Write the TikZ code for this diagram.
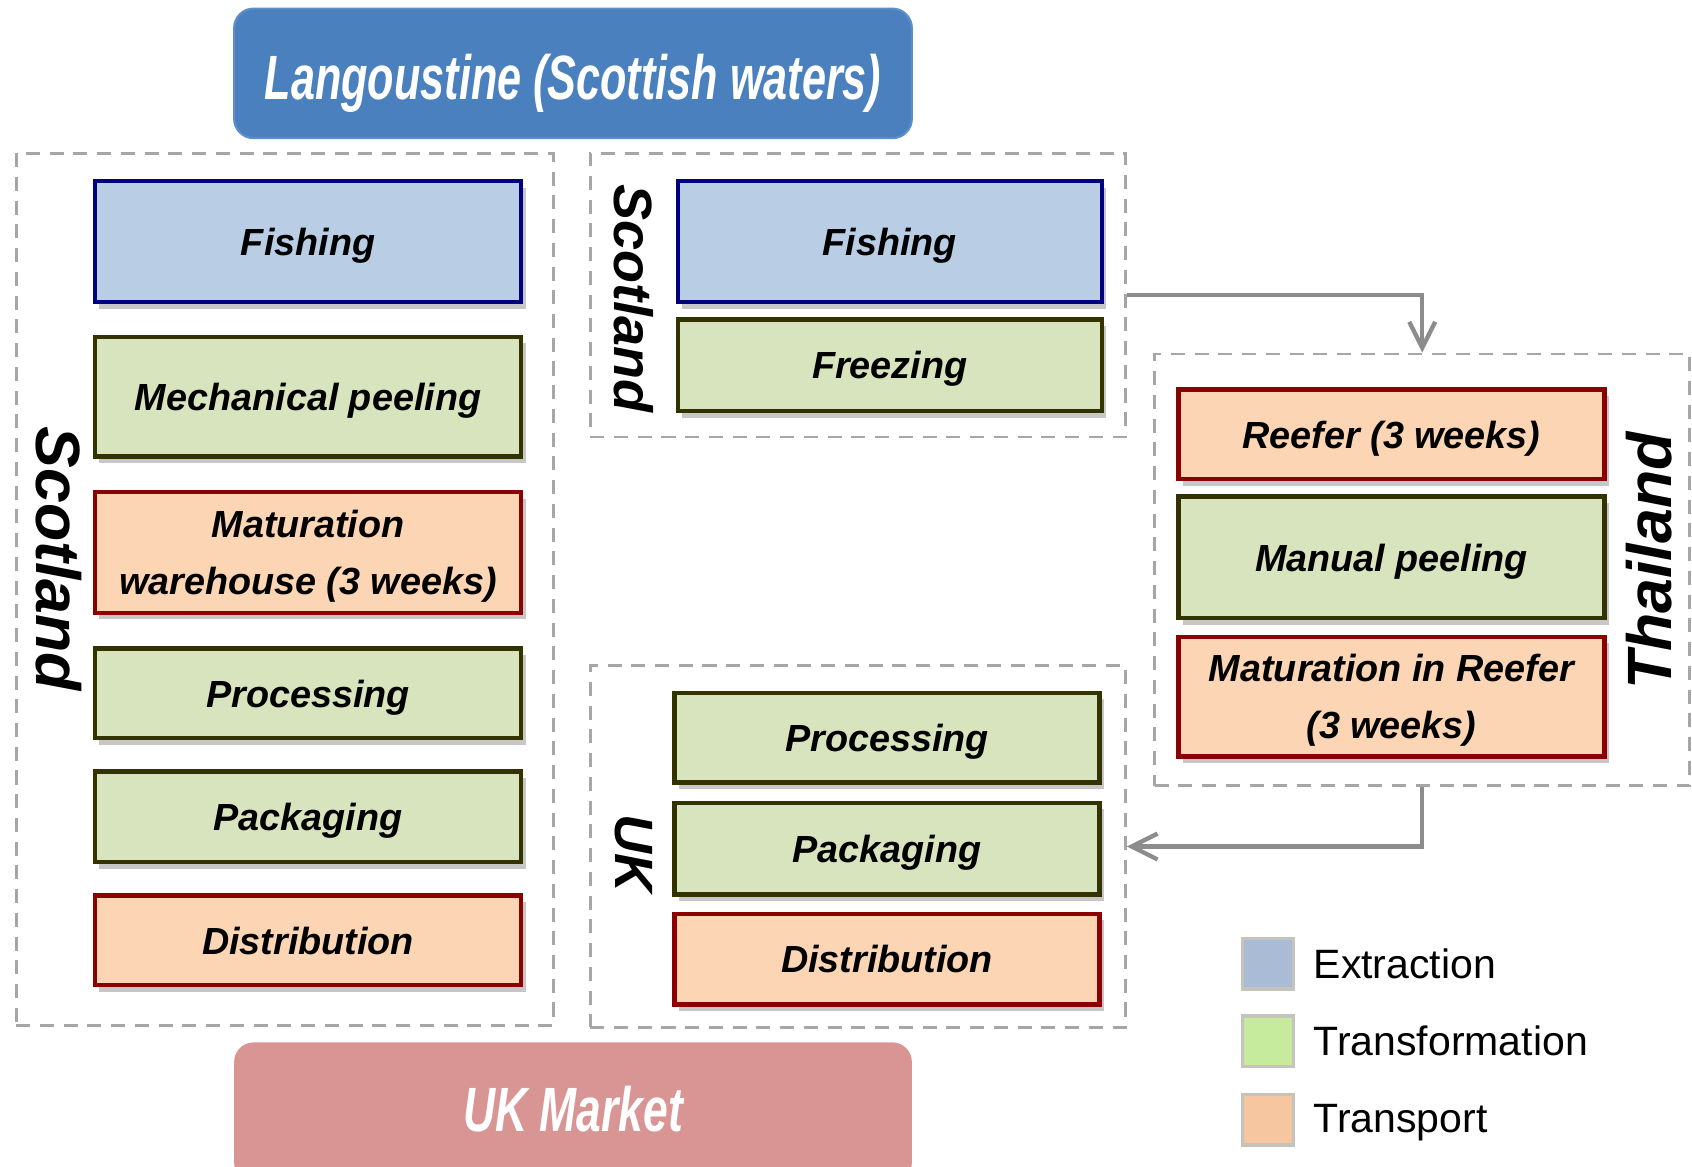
\documentclass[tikz,border=0pt]{standalone}
\usepackage{fontspec}
\setmainfont{Liberation Sans}
\usetikzlibrary{arrows.meta,shadows}

\definecolor{exfill}{HTML}{B9CDE5}
\definecolor{exline}{HTML}{000080}
\definecolor{trfill}{HTML}{D7E4BD}
\definecolor{trline}{HTML}{333300}
\definecolor{tpfill}{HTML}{FCD5B5}
\definecolor{tpline}{HTML}{8B0000}
\definecolor{topblue}{HTML}{4A80BD}
\definecolor{topline}{HTML}{5B8FCB}
\definecolor{mktpink}{HTML}{D99594}
\definecolor{framegray}{HTML}{A6A6A6}
\definecolor{arrgray}{HTML}{8C8C8C}
\definecolor{legex}{HTML}{AABBD6}
\definecolor{legtr}{HTML}{C6EB9C}
\definecolor{legtp}{HTML}{F5C6A0}
\definecolor{legline}{HTML}{C4C4BC}

\begin{document}
\begin{tikzpicture}[x=0.5pt,y=-0.5pt,
  box/.style={draw, line width=2pt, minimum width=197.5pt, align=center,
    inner sep=0pt, text depth=0pt, font=\bfseries\itshape\fontsize{17.5}{26.5}\selectfont,
    drop shadow={shadow xshift=2pt, shadow yshift=-3pt, opacity=0.22, fill=black}},
  extr/.style={box, fill=exfill, draw=exline},
  trans/.style={box, fill=trfill, draw=trline},
  transp/.style={box, fill=tpfill, draw=tpline},
  group/.style={draw=framegray, line width=1.3pt, dash pattern=on 6.5pt off 4.5pt, inner sep=0pt},
  glabel/.style={font=\bfseries\itshape\fontsize{29}{30}\selectfont, inner sep=0pt},
  glabelsm/.style={font=\bfseries\itshape\fontsize{25}{26}\selectfont, inner sep=0pt},
  banner/.style={rounded corners=9pt, minimum width=314pt, text=white, inner sep=0pt,
    font=\bfseries\itshape\fontsize{29}{30}\selectfont},
  arr/.style={draw=arrgray, line width=2pt, -{Straight Barb[length=12pt, width=12pt, line width=2pt]}},
  legsq/.style={draw=legline, line width=1.5pt, minimum width=23.5pt, minimum height=23.5pt, inner sep=0pt},
  legtxt/.style={anchor=west, inner sep=0pt, font=\fontsize{19}{20}\selectfont}
]
\clip (0,0) rectangle (1568,1081);
\fill[white] (0,0) rectangle (1568,1081);

% groups
\node[group, minimum width=249pt, minimum height=404pt] (gscot) at (264,546) {};
\node[group, minimum width=248pt, minimum height=131.5pt] (gscot2) at (795,273.5) {};
\node[group, minimum width=248pt, minimum height=200pt] (gthai) at (1318,528) {};
\node[group, minimum width=248pt, minimum height=167.5pt] (guk) at (795,784.5) {};

% banners
\node[banner, fill=topblue, draw=topline, line width=1pt, minimum height=60pt,
  text height=24pt, text depth=0pt] (src) at (531,68)
  {\scalebox{0.69}[1]{Langoustine (Scottish waters)}};
\node[banner, fill=mktpink, minimum height=65pt] (mkt) at (531,1031)
  {\raisebox{3pt}{\scalebox{0.71}[1]{UK Market}}};

% group labels
\node[glabel, rotate=-90] (lscot) at (55,518) {Scotland};
\node[glabelsm, rotate=-90] (lscot2) at (587,277) {Scotland};
\node[glabel, rotate=90] (lthai) at (1528,520) {Thailand};
\node[glabelsm, rotate=-90] (luk) at (587,791) {UK};

% left column (Scotland)
\node[extr, minimum height=56pt] (lfish) at (285.5,224) {Fishing};
\node[trans, minimum height=55.5pt] (lmech) at (285.5,367.5) {Mechanical peeling};
\node[transp, minimum height=56pt] (lmat) at (285.5,512) {Maturation\\warehouse (3 weeks)};
\node[trans, minimum height=41.5pt] (lproc) at (285.5,642.5) {Processing};
\node[trans, minimum height=42pt] (lpack) at (285.5,757) {Packaging};
\node[transp, minimum height=41.5pt] (ldist) at (285.5,871.5) {Distribution};

% middle top (Scotland)
\node[extr, minimum width=196.5pt, minimum height=56pt] (mfish) at (824.5,224) {Fishing};
\node[trans, minimum width=196.5pt, minimum height=42.5pt] (mfreeze) at (824.5,338.5) {Freezing};

% Thailand
\node[transp, minimum height=41.5pt] (treefer) at (1289.5,402.5) {Reefer (3 weeks)};
\node[trans, minimum height=56.5pt] (tmanual) at (1289.5,516.5) {Manual peeling};
\node[transp, minimum height=55.5pt] (tmat) at (1289.5,645.5) {Maturation in Reefer\\(3 weeks)};

% UK
\node[trans, minimum width=197pt, minimum height=41.5pt] (uproc) at (822,683.5) {Processing};
\node[trans, minimum width=197pt, minimum height=42.5pt] (upack) at (822,786.5) {Packaging};
\node[transp, minimum width=197pt, minimum height=42pt] (udist) at (822,889) {Distribution};

% connectors
\draw[arr] (gscot2.east) -| (gthai.north);
\draw[arr] (gthai.south) |- (guk.east);

% legend
\node[legsq, fill=legex] (sqex) at (1175,893) {};
\node[legsq, fill=legtr] (sqtr) at (1175,965) {};
\node[legsq, fill=legtp] (sqtp) at (1175,1037.5) {};
\node[legtxt] (tex) at (1217,893) {Extraction};
\node[legtxt] (ttr) at (1217,965) {Transformation};
\node[legtxt] (ttp) at (1217,1040) {Transport};
\end{tikzpicture}
\end{document}
